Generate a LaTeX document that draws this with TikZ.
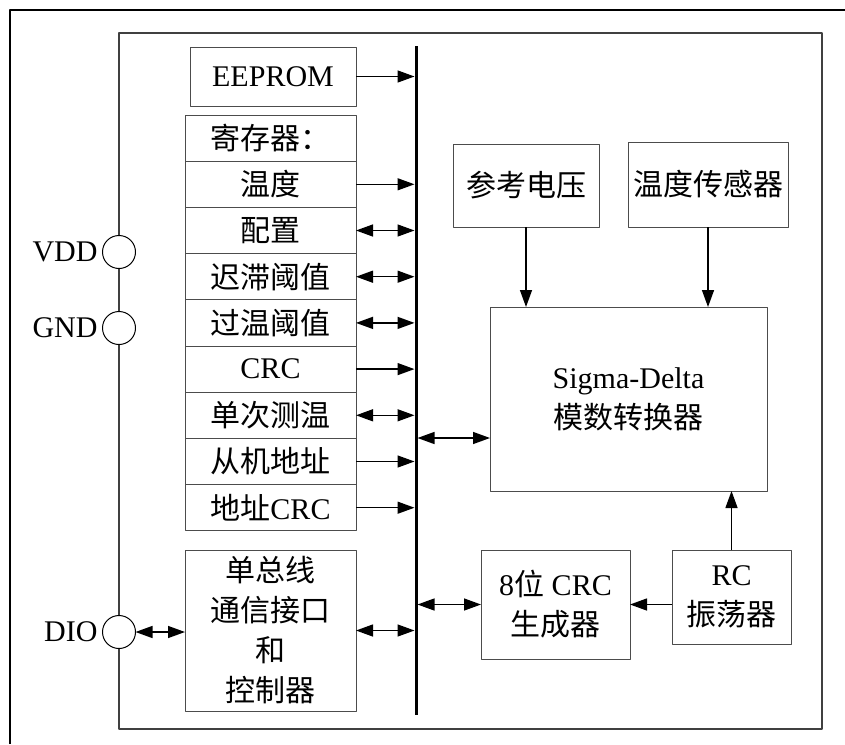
\documentclass[tikz,border=0pt]{standalone}
\usepackage{fontspec}
\setmainfont{Liberation Serif}
\newfontfamily\cjk{Noto Sans CJK SC}
\usetikzlibrary{positioning,arrows.meta}
\begin{document}
\begin{tikzpicture}[x=1pt,y=-1pt,line join=round,>={Triangle[length=17pt,width=12pt]}]
	\tikzset{every node/.style={inner sep=0pt,outer sep=0pt,font=\fontsize{30}{40}\selectfont},
		blk/.style={draw=black!70,line width=1pt,align=center},
		reg/.style={blk,minimum width=171pt,minimum height=46.2pt},
		pin/.style={draw,circle,line width=1pt,fill=white,minimum size=33pt},
		con/.style={line width=1.4pt}}
	\useasboundingbox (0,0) rectangle (845,744);
	% frame and chip
	\draw[line width=2pt] (10,744)--(10,10)--(845,10);
	\draw[draw=black!75,line width=1.2pt] (119,33) rectangle (822,729);
	% bus
	\coordinate (bustop) at (416,46);
	\coordinate (busbot) at (416,715);
	\draw[line width=3pt] (bustop)--(busbot);
	% pins
	\node[pin,label={[label distance=5pt]left:VDD}] (vdd) at (119,252) {};
	\node[pin,label={[label distance=5pt]left:GND}] (gnd) at (119,328) {};
	\node[pin,label={[label distance=5pt]left:DIO}] (dio) at (119,632) {};
	% left blocks
	\node[blk,minimum width=166pt,minimum height=59pt] (eeprom) at (273,76.5) {EEPROM};
	\foreach \txt [count=\i] in {{\cjk 寄存器：},{\cjk 温度},{\cjk 配置},{\cjk 迟滞阈值},{\cjk 过温阈值},CRC,{\cjk 单次测温},{\cjk 从机地址},{{\cjk 地址}CRC}}
	\node[reg] (r\i) at (270.5,{91.9+46.2*\i}) {\txt};
	\node[blk,minimum width=171pt,minimum height=161pt] (sbus) at (270.5,630.5)
		{\cjk 单总线\\\cjk 通信接口\\\cjk 和\\\cjk 控制器};
	% right blocks
	\node[blk,minimum width=146pt,minimum height=83pt] (vref) at (526,185.5) {\cjk 参考电压};
	\node[blk,minimum width=160pt,minimum height=85pt] (sens) at (708,184.5) {\cjk 温度传感器};
	\node[blk,minimum width=277pt,minimum height=184pt] (adc) at (628.5,399) {Sigma-Delta\\\cjk 模数转换器};
	\node[blk,minimum width=149pt,minimum height=109pt] (crc) at (555.5,604.5) {8{\cjk 位} CRC\\\cjk 生成器};
	\node[blk,minimum width=119pt,minimum height=94pt] (osc) at (731.5,597) {RC\\\cjk 振荡器};
	% connections
	\draw[con,->,shorten >=1.5pt] (eeprom.east)--(eeprom.east -| bustop);
	\foreach \i/\tip in {2/->,3/<->,4/<->,5/<->,6/->,7/<->,8/->,9/->}
	\draw[con,\tip,shorten >=1.5pt] (r\i.east)--(r\i.east -| bustop);
	\draw[con,<->,shorten >=1.5pt] (sbus.east)--(sbus.east -| bustop);
	\draw[con,<->] (dio.east)--(dio.east -| sbus.west);
	\coordinate (adcin) at ([yshift=-39pt]adc.west);
	\draw[con,<->,shorten >=1.5pt] (adcin)--(adcin -| bustop);
	\draw[con,<->,shorten >=1.5pt] (crc.west)--(crc.west -| bustop);
	\draw[con,->] (vref.south)--(vref.south |- adc.north);
	\draw[con,->] (sens.south)--(sens.south |- adc.north);
	\draw[con,->] (osc.north)--(osc.north |- adc.south);
	\draw[con,->] (crc.east -| osc.west)--(crc.east);
\end{tikzpicture}
\end{document}
